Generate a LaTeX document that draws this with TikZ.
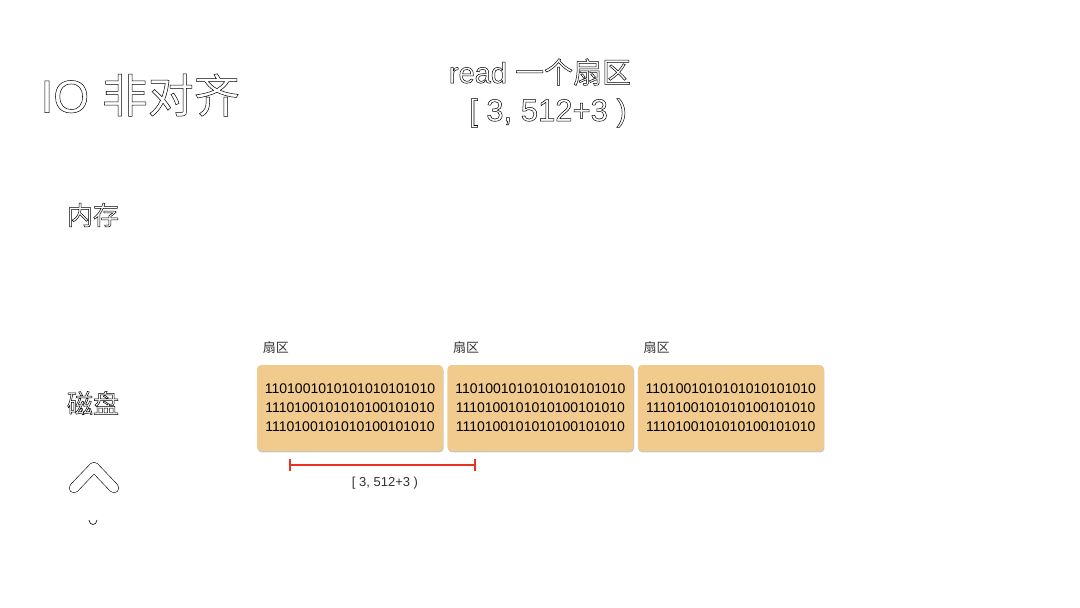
\documentclass[tikz,border=0pt]{standalone}
\usepackage{fontspec}
\setmainfont{Liberation Sans}
\newfontfamily\cjk{Noto Sans CJK SC}
\usetikzlibrary{positioning, shadows, arrows.meta}
\definecolor{sectorfill}{RGB}{241,203,142}
\definecolor{markred}{RGB}{232,50,34}
\definecolor{labelgray}{RGB}{50,50,50}
% white letters with a thin black outline
\newcommand\hollowtext[1]{{\color{white}\special{pdf:literal direct 2 Tr 0.5 w 0 0 0 RG}#1\special{pdf:literal direct 0 Tr}}}

\begin{document}
\begin{tikzpicture}[x=1pt, y=-1pt,
    sector/.style={rounded corners=4pt, fill=sectorfill, minimum width=186pt, minimum height=86pt,
      inner sep=0pt, align=center, font=\fontsize{14}{19}\selectfont,
      drop shadow={shadow xshift=0.6pt, shadow yshift=-1.4pt, opacity=0.45}},
    seclabel/.style={text=labelgray, font=\fontsize{13}{15}\selectfont},
    side/.style={font=\cjk\fontsize{26}{30}\selectfont},
    head/.style={font=\fontsize{29}{34}\selectfont},
    chevron/.style={draw=black, line width=0.6pt, double=white, double distance=9pt,
      line cap=round, line join=round}]
    \useasboundingbox (0,0) rectangle (1080,608);

    % the three sectors on disk
    \node[sector] (s1) at (350,408) {1101001010101010101010\\1110100101010100101010\\1110100101010100101010};
    \node[sector, right=4pt of s1] (s2) {1101001010101010101010\\1110100101010100101010\\1110100101010100101010};
    \node[sector, right=4pt of s2] (s3) {1101001010101010101010\\1110100101010100101010\\1110100101010100101010};

    \node[seclabel] (l1) at ([xshift=19pt, yshift=17pt] s1.north west) {\cjk 扇区};
    \node[seclabel] (l2) at ([xshift=19pt, yshift=17pt] s2.north west) {\cjk 扇区};
    \node[seclabel] (l3) at ([xshift=19pt, yshift=17pt] s3.north west) {\cjk 扇区};

    % the range that is read
    \coordinate (r1) at ([xshift=32pt, yshift=-14pt] s1.south west);
    \coordinate (r2) at ([xshift=29pt, yshift=-14pt] s2.south west);
    \draw[markred, line width=1.8pt, {Bar[width=12pt]}-{Bar[width=12pt]}] (r1) -- (r2);
    \node[seclabel] (rl) at (385,483) {[ 3, 512+3 )};

    % up chevron
    \coordinate (c1) at (74,488);
    \coordinate (c2) at (94,467);
    \coordinate (c3) at (114,488);
    \draw[chevron] (c1) -- (c2) -- (c3);
    \draw[line width=0.6pt] (89,520) .. controls (89.5,526) and (96.5,526) .. (97,520);

    \node[anchor=west, font=\fontsize{46}{52}\selectfont] (title) at (37,95) {\hollowtext{IO {\cjk 非对齐}}};
    \node[head] (readop) at (540,72) {\hollowtext{read {\cjk 一个扇区}}};
    \node[head, font=\fontsize{31}{36}\selectfont] (range) at (548,113) {\hollowtext{[ 3, 512+3 )}};
    \node[side] (mem) at (93,215) {\hollowtext{内存}};
    \node[side] (disk) at (93,403) {\hollowtext{磁盘}};
\end{tikzpicture}
\end{document}
